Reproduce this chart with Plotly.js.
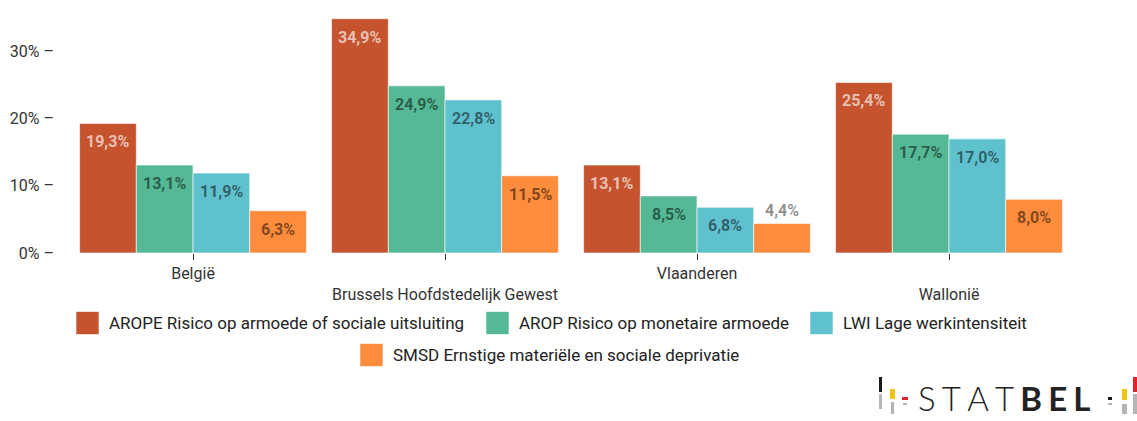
<!DOCTYPE html>
<html>
<head>
<meta charset="utf-8">
<script src="https://cdn.plot.ly/plotly-3.0.1.min.js"></script>
<style>
  html, body { margin: 0; padding: 0; background: #fff; }
  #chart { width: 1137px; height: 421px; }
</style>
</head>
<body>
<div id="chart"></div>
<script>
// Regions on the x axis.
const regions = ["België", "Brussels Hoofdstedelijk Gewest", "Vlaanderen", "Wallonië"];

// One array per indicator, in percent.
const arope = [19.3, 34.9, 13.1, 25.4];
const arop = [13.1, 24.9, 8.5, 17.7];
const lwi = [11.9, 22.8, 6.8, 17.0];
const smsd = [6.3, 11.5, 4.4, 8.0];

const seriesNames = [
  "AROPE Risico op armoede of sociale uitsluiting",
  "AROP Risico op monetaire armoede",
  "LWI Lage werkintensiteit",
  "SMSD Ernstige materiële en sociale deprivatie",
];
const seriesColors = ["#c4532e", "#55b995", "#60c1ce", "#fd8c3c"];
const labelColors = ["rgba(255,255,255,0.65)", "rgba(0,0,0,0.5)",
                     "rgba(0,0,0,0.5)", "rgba(0,0,0,0.5)"];

const yTicks = [0, 10, 20, 30];

// Plot area in pixels (used to place the hand made legend and the logo).
const W = 1137, H = 421;
const plotL = 67, plotR = 1075, plotT = 18, plotB = 253;
const px = (x) => (x - plotL) / (plotR - plotL);
const py = (y) => (plotB - y) / (plotB - plotT);

const fmt = (v) => v.toFixed(1).replace(".", ",") + "%";

const allSeries = [arope, arop, lwi, smsd];
const bargap = 0.1;
const barW = (1 - bargap) / allSeries.length;

const traces = allSeries.map((vals, i) => ({
  type: "bar",
  name: seriesNames[i],
  x: regions,
  y: vals,
  marker: {
    color: seriesColors[i],
    line: { color: "rgba(255,255,255,0.6)", width: 1 },
  },
  hoverinfo: "skip",
  showlegend: false,
}));

// Value labels sit a little below the top of each bar, or above it when
// the bar is too short.
const annotations = [];
allSeries.forEach((vals, i) => {
  vals.forEach((v, j) => {
    const outside = v < 5;
    annotations.push({
      x: j + (i - (allSeries.length - 1) / 2) * barW,
      y: v,
      xref: "x", yref: "y",
      text: "<b>" + fmt(v) + "</b>",
      showarrow: false,
      yanchor: outside ? "bottom" : "top",
      yshift: outside ? 1 : -7,
      font: { family: "Roboto, sans-serif", size: 16,
              color: outside ? "rgba(0,0,0,0.45)" : labelColors[i] },
    });
  });
});

// Legend, drawn by hand so the swatches are as big as in the original.
const legendItems = [
  { x: 76, y: 323 },
  { x: 486, y: 323 },
  { x: 810, y: 323 },
  { x: 360, y: 355 },
];
const shapes = [];
legendItems.forEach((it, i) => {
  shapes.push({
    type: "rect", xref: "paper", yref: "paper",
    x0: px(it.x), x1: px(it.x + 23), y0: py(it.y + 11.5), y1: py(it.y - 11.5),
    fillcolor: seriesColors[i], line: { color: "rgba(255,255,255,0.6)", width: 1 },
  });
  annotations.push({
    xref: "paper", yref: "paper", x: px(it.x + 31), y: py(it.y),
    xanchor: "left", yanchor: "middle", showarrow: false,
    text: seriesNames[i],
    font: { family: "Roboto, sans-serif", size: 17, color: "#222" },
  });
});

// STATBEL logo in the bottom right corner.
const logoBars = [
  [879, 882, 377, 392, "#1a1a1a"], [879, 882, 394, 409, "#b5b5b5"],
  [890, 895, 389, 399, "#f2c40f"], [891, 894, 402, 414, "#b5b5b5"],
  [902, 908, 397, 400, "#e3222b"], [903, 907, 403, 405, "#b5b5b5"],
  [1108, 1112, 397, 400, "#1a1a1a"], [1108, 1112, 403, 405, "#b5b5b5"],
  [1122, 1127, 389, 400, "#f2c40f"], [1122, 1127, 404, 414, "#b5b5b5"],
  [1133, 1137, 377, 392, "#e3222b"], [1133, 1137, 394, 414, "#b5b5b5"],
];
logoBars.forEach(([x0, x1, y0, y1, c]) => {
  shapes.push({
    type: "rect", xref: "paper", yref: "paper",
    x0: px(x0), x1: px(x1), y0: py(y1), y1: py(y0),
    fillcolor: c, line: { width: 0 },
  });
});
const sp = "\u2009\u200A";
annotations.push({
  xref: "paper", yref: "paper", x: px(916), y: py(398),
  xanchor: "left", yanchor: "middle", showarrow: false,
  text: ["S", "T", "A", "T"].join(sp) + sp + "<b>" + ["B", "E", "L"].join(sp) + "</b>",
  font: { family: "Lato, sans-serif", size: 33, color: "#222", weight: 300 },
});

const layout = {
  width: W,
  height: H,
  margin: { l: plotL, r: W - plotR, t: plotT, b: H - plotB },
  paper_bgcolor: "#fff",
  plot_bgcolor: "#fff",
  barmode: "group",
  bargap: bargap,
  bargroupgap: 0,
  showlegend: false,
  font: { family: "Roboto, sans-serif", size: 12, color: "#333" },
  xaxis: {
    type: "category",
    tickvals: regions,
    // every second label goes one line lower, like in the original
    ticktext: regions.map((r, i) => (i % 2 ? "<br>" + r : r)),
    ticks: "outside",
    ticklen: 6,
    tickcolor: "#333",
    tickfont: { family: "Roboto, sans-serif", size: 16, color: "#333" },
    showgrid: false,
    zeroline: false,
    showline: false,
    fixedrange: true,
  },
  yaxis: {
    range: [0, 35],
    tickvals: yTicks,
    ticktext: yTicks.map((t) => t + "% –"),
    ticks: "",
    ticklabelstandoff: 12,
    tickfont: { family: "Roboto, sans-serif", size: 16, color: "#333" },
    showgrid: false,
    zeroline: false,
    showline: false,
    fixedrange: true,
  },
  shapes: shapes,
  annotations: annotations,
};

Plotly.newPlot("chart", traces, layout, { displayModeBar: false, staticPlot: true });
</script>
</body>
</html>
